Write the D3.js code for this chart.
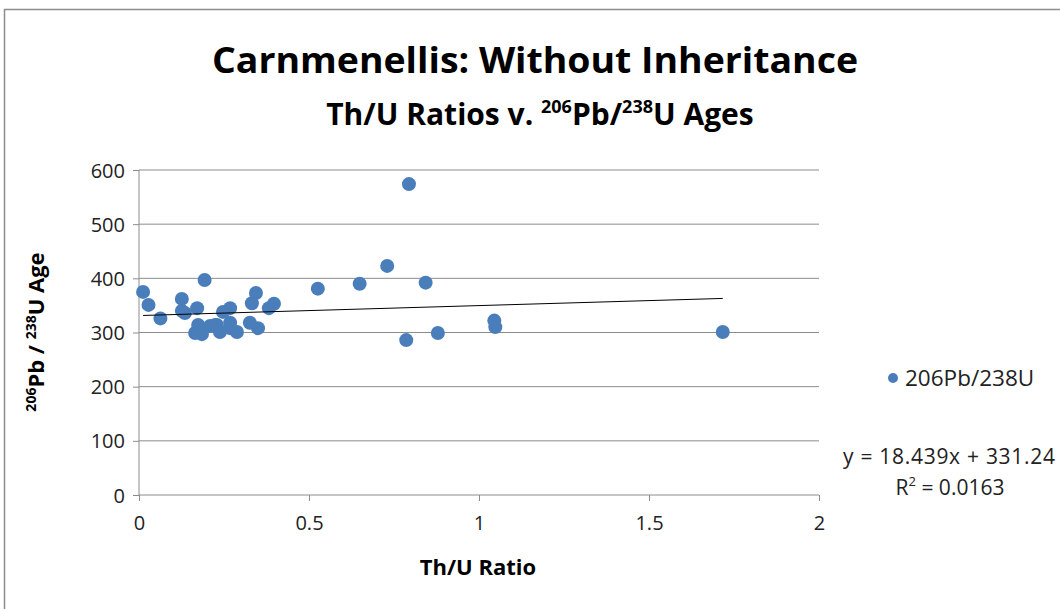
<!DOCTYPE html>
<html><head><meta charset="utf-8">
<script src="https://cdn.jsdelivr.net/npm/d3@7"></script>
<style>
html,body{margin:0;padding:0;background:#fff;}
svg{display:block;}
text{font-family:"Open Sans","Liberation Sans",sans-serif;}
</style></head>
<body>
<script>
// Data
const thU = [0.012,0.028,0.063,0.126,0.126,0.135,0.171,0.193,0.165,0.185,0.174,0.209,0.224,0.238,0.229,0.268,0.247,0.268,0.268,0.288,0.326,0.35,0.332,0.344,0.382,0.397,0.526,0.649,0.730,0.794,0.843,0.786,0.879,1.045,1.048,1.717];
const ages = [375,351,326,362,340,336,345,397,299,297,314,312,314,301,314,345,338,318,308,301,318,308,354,373,345,353,381,390,423,574,392,286,299,322,310,301];
const xTicks = [0,0.5,1,1.5,2];
const yTicks = [0,100,200,300,400,500,600];
const slope = 18.439, intercept = 331.24;
const rSquared = "0.0163";
const seriesName = "206Pb/238U";

const W=1060,H=609;
const svg=d3.select("body").append("svg").attr("width",W).attr("height",H);
// outer frame
svg.append("rect").attr("x",4.5).attr("y",9.5).attr("width",W+10).attr("height",H+10)
  .attr("fill","#fff").attr("stroke","#8c8c8c").attr("stroke-width",1.5);

const x=d3.scaleLinear().domain([0,2]).range([139,819]);
const y=d3.scaleLinear().domain([0,600]).range([495,170]);

// gridlines
svg.append("g").selectAll("line").data(yTicks.filter(d=>d>0)).join("line")
  .attr("x1",x(0)).attr("x2",x(2)).attr("y1",d=>y(d)).attr("y2",d=>y(d))
  .attr("stroke","#8c8c8c").attr("stroke-width",1);

// axes
const xAxis=d3.axisBottom(x).tickValues(xTicks).tickSize(6).tickPadding(15).tickFormat(d=>String(d));
const gx=svg.append("g").attr("transform",`translate(0,${y(0)})`).call(xAxis);
gx.select(".domain").attr("stroke","#8c8c8c").attr("d",`M${x(0)},0H${x(2)}`);
gx.selectAll(".tick line").attr("stroke","#8c8c8c");
gx.selectAll(".tick text").attr("fill","#222").attr("dy","0.72em")
  .style("font-family","'Open Sans',sans-serif").attr("font-size",20);

const yAxis=d3.axisLeft(y).tickValues(yTicks).tickSize(6).tickPadding(8);
const gy=svg.append("g").attr("transform",`translate(${x(0)},0)`).call(yAxis);
gy.select(".domain").attr("stroke","#8c8c8c").attr("d",`M0,${y(0)}V${y(600)}`);
gy.selectAll(".tick line").attr("stroke","#8c8c8c");
gy.selectAll(".tick text").attr("fill","#222").attr("dy","0.35em")
  .style("font-family","'Open Sans',sans-serif").attr("font-size",20);

// points
svg.append("g").selectAll("circle").data(thU.map((v,i)=>[v,ages[i]])).join("circle")
  .attr("cx",d=>x(d[0])).attr("cy",d=>y(d[1])).attr("r",7).attr("fill","#4a7ebb");

// trendline
const xmin=d3.min(thU), xmax=d3.max(thU);
svg.append("line").attr("x1",x(xmin)).attr("y1",y(slope*xmin+intercept))
  .attr("x2",x(xmax)).attr("y2",y(slope*xmax+intercept))
  .attr("stroke","#000").attr("stroke-width",1);

// titles
svg.append("text").attr("x",535).attr("y",73).attr("text-anchor","middle")
  .attr("font-size",36).attr("font-weight","bold").attr("fill","#000")
  .attr("textLength",646).attr("lengthAdjust","spacingAndGlyphs")
  .text("Carnmenellis: Without Inheritance");
const st=svg.append("text").attr("x",540).attr("y",125).attr("text-anchor","middle")
  .attr("font-size",30).attr("font-weight","bold").attr("fill","#000");
st.append("tspan").text("Th/U Ratios v. ");
st.append("tspan").attr("font-size",18).attr("dy",-12).text("206");
st.append("tspan").attr("dy",12).text("Pb/");
st.append("tspan").attr("font-size",18).attr("dy",-12).text("238");
st.append("tspan").attr("dy",12).text("U Ages");

// axis titles
svg.append("text").attr("x",478).attr("y",575).attr("text-anchor","middle")
  .attr("font-size",22).attr("font-weight","bold").attr("fill","#000").text("Th/U Ratio");
const yt=svg.append("text").attr("transform","translate(44,332) rotate(-90)").attr("text-anchor","middle")
  .attr("font-size",22).attr("font-weight","bold").attr("fill","#000");
yt.append("tspan").attr("font-size",14).attr("dy",-8).text("206");
yt.append("tspan").attr("dy",8).text("Pb / ");
yt.append("tspan").attr("font-size",14).attr("dy",-8).text("238");
yt.append("tspan").attr("dy",8).text("U Age");

// legend
svg.append("circle").attr("cx",893).attr("cy",378).attr("r",5).attr("fill","#4a7ebb");
svg.append("text").attr("x",905).attr("y",386).attr("fill","#222")
  .style("font-family","'Open Sans',sans-serif").attr("font-size",22.5)
  .text(seriesName);
svg.append("text").attr("x",1055).attr("y",464).attr("text-anchor","end").attr("fill","#222")
  .style("font-family","'Open Sans',sans-serif").attr("font-size",21)
  .attr("textLength",212).attr("lengthAdjust","spacing")
  .text(`y = ${slope}x + ${intercept}`);
const r2=svg.append("text").attr("x",950).attr("y",495).attr("text-anchor","middle").attr("fill","#222")
  .style("font-family","'Open Sans',sans-serif").attr("font-size",21);
r2.append("tspan").text("R");
r2.append("tspan").attr("font-size",13).attr("dy",-9).text("2");
r2.append("tspan").attr("dy",9).text(" = " + rSquared);
</script>
</body></html>
